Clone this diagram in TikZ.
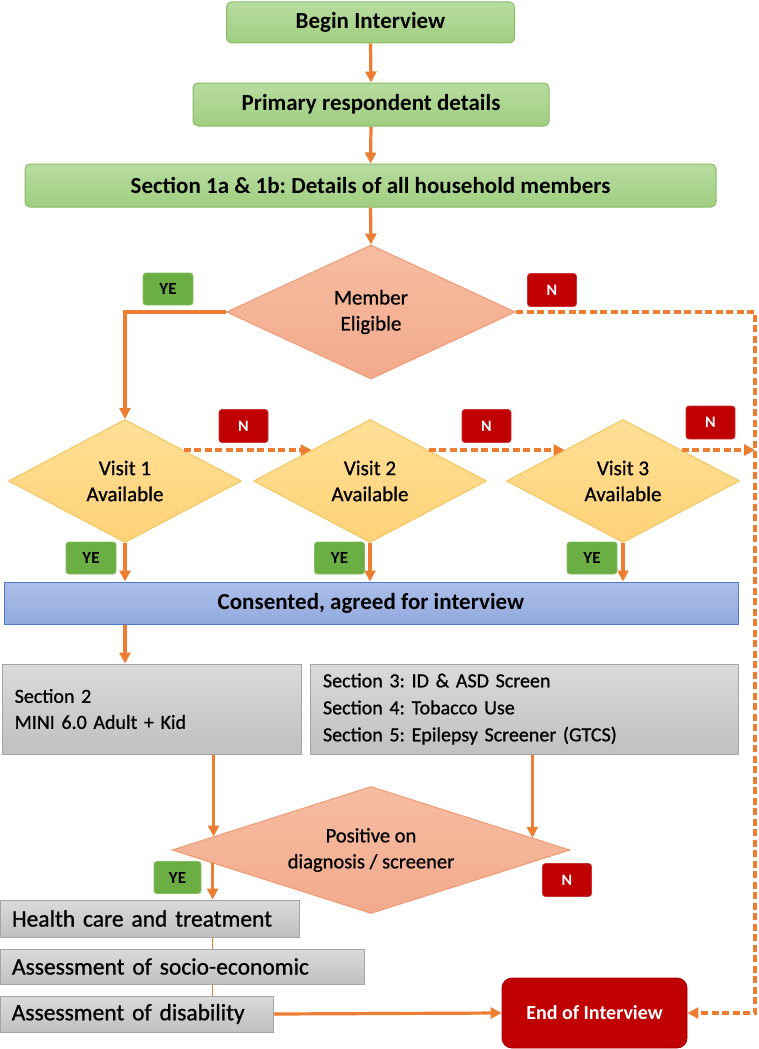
\documentclass[tikz,border=0pt]{standalone}
\usepackage{fontspec}
\setmainfont{Carlito}
\newfontfamily\medfont{Carlito}[FakeBold=0.8]
\frenchspacing
\usetikzlibrary{shapes.geometric,arrows.meta,calc}
\definecolor{arrc}{RGB}{237,125,49}
\definecolor{grnT}{RGB}{184,220,160}
\definecolor{grnB}{RGB}{160,206,128}
\definecolor{grnD}{RGB}{135,188,100}
\definecolor{salT}{RGB}{246,188,162}
\definecolor{salB}{RGB}{242,170,140}
\definecolor{salD}{RGB}{240,155,115}
\definecolor{yelT}{RGB}{255,224,150}
\definecolor{yelB}{RGB}{255,210,120}
\definecolor{yelD}{RGB}{246,196,95}
\definecolor{bluT}{RGB}{172,190,232}
\definecolor{bluB}{RGB}{145,170,222}
\definecolor{bluD}{RGB}{80,120,200}
\definecolor{gryT}{RGB}{218,218,218}
\definecolor{gryB}{RGB}{192,192,192}
\definecolor{gryD}{RGB}{165,165,165}
\definecolor{yesg}{RGB}{106,174,68}
\definecolor{yesD}{RGB}{130,190,95}
\definecolor{nored}{RGB}{192,0,0}
\begin{document}
\begin{tikzpicture}[x=1pt,y=-1pt,
  headfont/.style={font=\fontsize{23}{27}\selectfont\bfseries},
  bodyfont/.style={font=\medfont\fontsize{21}{26}\selectfont},
  greenbox/.style={draw=grnD, line width=1pt, rounded corners=5pt, top color=grnT, bottom color=grnB, headfont, inner sep=0pt},
  salmondia/.style={diamond, shape aspect=2, draw=salD, line width=1pt, top color=salT, bottom color=salB, bodyfont, align=center, inner sep=1pt},
  visitdia/.style={diamond, shape aspect=2, draw=yelD, line width=1pt, top color=yelT, bottom color=yelB, bodyfont, align=center, inner sep=1pt, minimum width=233pt, minimum height=123pt},
  graybox/.style={draw=gryD, line width=1pt, top color=gryT, bottom color=gryB, inner sep=0pt},
  yeslab/.style={draw=yesD, line width=0.8pt, fill=yesg, rounded corners=3pt, minimum width=50pt, minimum height=32pt, inner sep=0pt, font=\fontsize{17}{19}\selectfont\bfseries, text=black},
  nolab/.style={draw=nored!80!white, line width=0.8pt, fill=nored, rounded corners=3pt, minimum width=49pt, minimum height=33pt, inner sep=0pt, font=\fontsize{16}{18}\selectfont\bfseries, text=white},
  arr/.style={draw=arrc, line width=3.2pt, -{Triangle[length=11pt,width=11pt]}},
  darr/.style={arr, dash pattern=on 7pt off 3.5pt},
  thinl/.style={draw=arrc, line width=1.6pt}
]
\useasboundingbox (0,0) rectangle (759,1049);

% top green boxes
\node[greenbox, minimum width=288pt, minimum height=41pt] (begin) at (370.5,22.5) {Begin Interview};
\node[greenbox, minimum width=356pt, minimum height=43pt] (primary) at (371,104.5) {Primary respondent details};
\node[greenbox, minimum width=691pt, minimum height=43pt] (sec1) at (370.5,185.5) {Section 1a \& 1b: Details of all household members};

% member eligible
\node[salmondia, minimum width=289pt, minimum height=134pt] (member) at (371,312) {Member\\Eligible};

% visits
\node[visitdia] (v1) at (125,481) {Visit 1\\Available};
\node[visitdia] (v2) at (370,481) {Visit 2\\Available};
\node[visitdia] (v3) at (623,481) {Visit 3\\Available};

% consented
\node[draw=bluD, line width=1pt, top color=bluT, bottom color=bluB, minimum width=734pt, minimum height=42pt, inner sep=0pt, headfont] (consent) at (371,603) {Consented, agreed for interview};

% sections 2-5
\node[graybox, minimum width=299pt, minimum height=90pt, text width=274pt, align=left, font=\medfont\fontsize{20}{26}\selectfont] (sec2) at (151.7,709) {Section 2\\MINI 6.0 Adult + Kid};
\node[graybox, minimum width=428pt, minimum height=90pt, text width=402pt, align=left, font=\medfont\fontsize{20}{27}\selectfont] (sec3) at (524,709) {Section 3: ID \& ASD Screen\\Section 4: Tobacco Use\\Section 5: Epilepsy Screener (GTCS)};

% positive diamond
\node[salmondia, shape aspect=3, minimum width=398pt, minimum height=127pt, font=\medfont\fontsize{20.5}{26}\selectfont] (pos) at (371,850) {Positive on\\diagnosis / screener};

% bottom gray boxes
\node[graybox, minimum width=299pt, minimum height=37pt, text width=275pt, align=left, font=\medfont\fontsize{23.5}{28}\selectfont] (health) at (149.5,918.5) {Health care and treatment};
\node[graybox, minimum width=364pt, minimum height=35pt, text width=340pt, align=left, font=\medfont\fontsize{23.5}{28}\selectfont] (socio) at (182,966.5) {Assessment of socio-economic};
\node[graybox, minimum width=273.5pt, minimum height=36pt, text width=250pt, align=left, font=\medfont\fontsize{23.5}{28}\selectfont] (disab) at (136.75,1014) {Assessment of disability};

% end of interview
\node[fill=nored, draw=nored!85!black, line width=0.8pt, rounded corners=10pt, minimum width=185pt, minimum height=70pt, inner sep=0pt, text=white, font=\fontsize{20}{24}\selectfont\bfseries] (endi) at (594.5,1013) {End of Interview};

% labels
\node[yeslab] (ye0) at (168,289) {YE};
\node[nolab] (n0) at (552,290) {N};
\node[nolab] (n1) at (243.5,426) {N};
\node[nolab] (n2) at (486.5,426) {N};
\node[nolab] (n3) at (710.5,422.5) {N};
\node[yeslab] (ye1) at (91,558) {YE};
\node[yeslab] (ye2) at (339.5,558) {YE};
\node[yeslab] (ye3) at (592,558) {YE};
\node[yeslab, minimum width=47pt] (ye4) at (177.5,877.5) {YE};
\node[nolab] (n4) at (567,880) {N};

% coordinates
\coordinate (rt) at (755,312);
\coordinate (pa) at ($(pos.west)!0.211!(pos.north)$);
\coordinate (pb) at ($(pos.east)!0.191!(pos.north)$);
\coordinate (pc) at ($(pos.west)!0.206!(pos.south)$);

% connectors
\draw[arr] (begin.south) -- (primary.north);
\draw[arr] (primary.south) -- (sec1.north);
\draw[arr] (sec1.south) -- (member.north);
\draw[arr] (member.west) -| (v1.north);
\draw[darr] (member.east) -- (rt) |- (endi.east);
\draw[darr] (v1.north east) -- (v2.north west);
\draw[darr] (v2.north east) -- (v3.north west);
\draw[darr] (v3.north east) -- (v3.north east -| rt);
\draw[arr] (v1.south) -- (v1.south |- consent.north);
\draw[arr] (v2.south) -- (v2.south |- consent.north);
\draw[arr] (v3.south) -- (v3.south |- consent.north);
\draw[arr] (v1.south |- consent.south) -- (v1.south |- sec2.north);
\draw[arr] (pa |- sec2.south) -- (pa);
\draw[arr] (pb |- sec3.south) -- (pb);
\draw[arr] (pc) -- (pc |- health.north);
\draw[thinl] (pc |- health.south) -- (pc |- socio.north);
\draw[thinl] (pc |- socio.south) -- (pc |- disab.north);
\draw[arr] (disab.east) -- (endi.west);
\end{tikzpicture}
\end{document}
